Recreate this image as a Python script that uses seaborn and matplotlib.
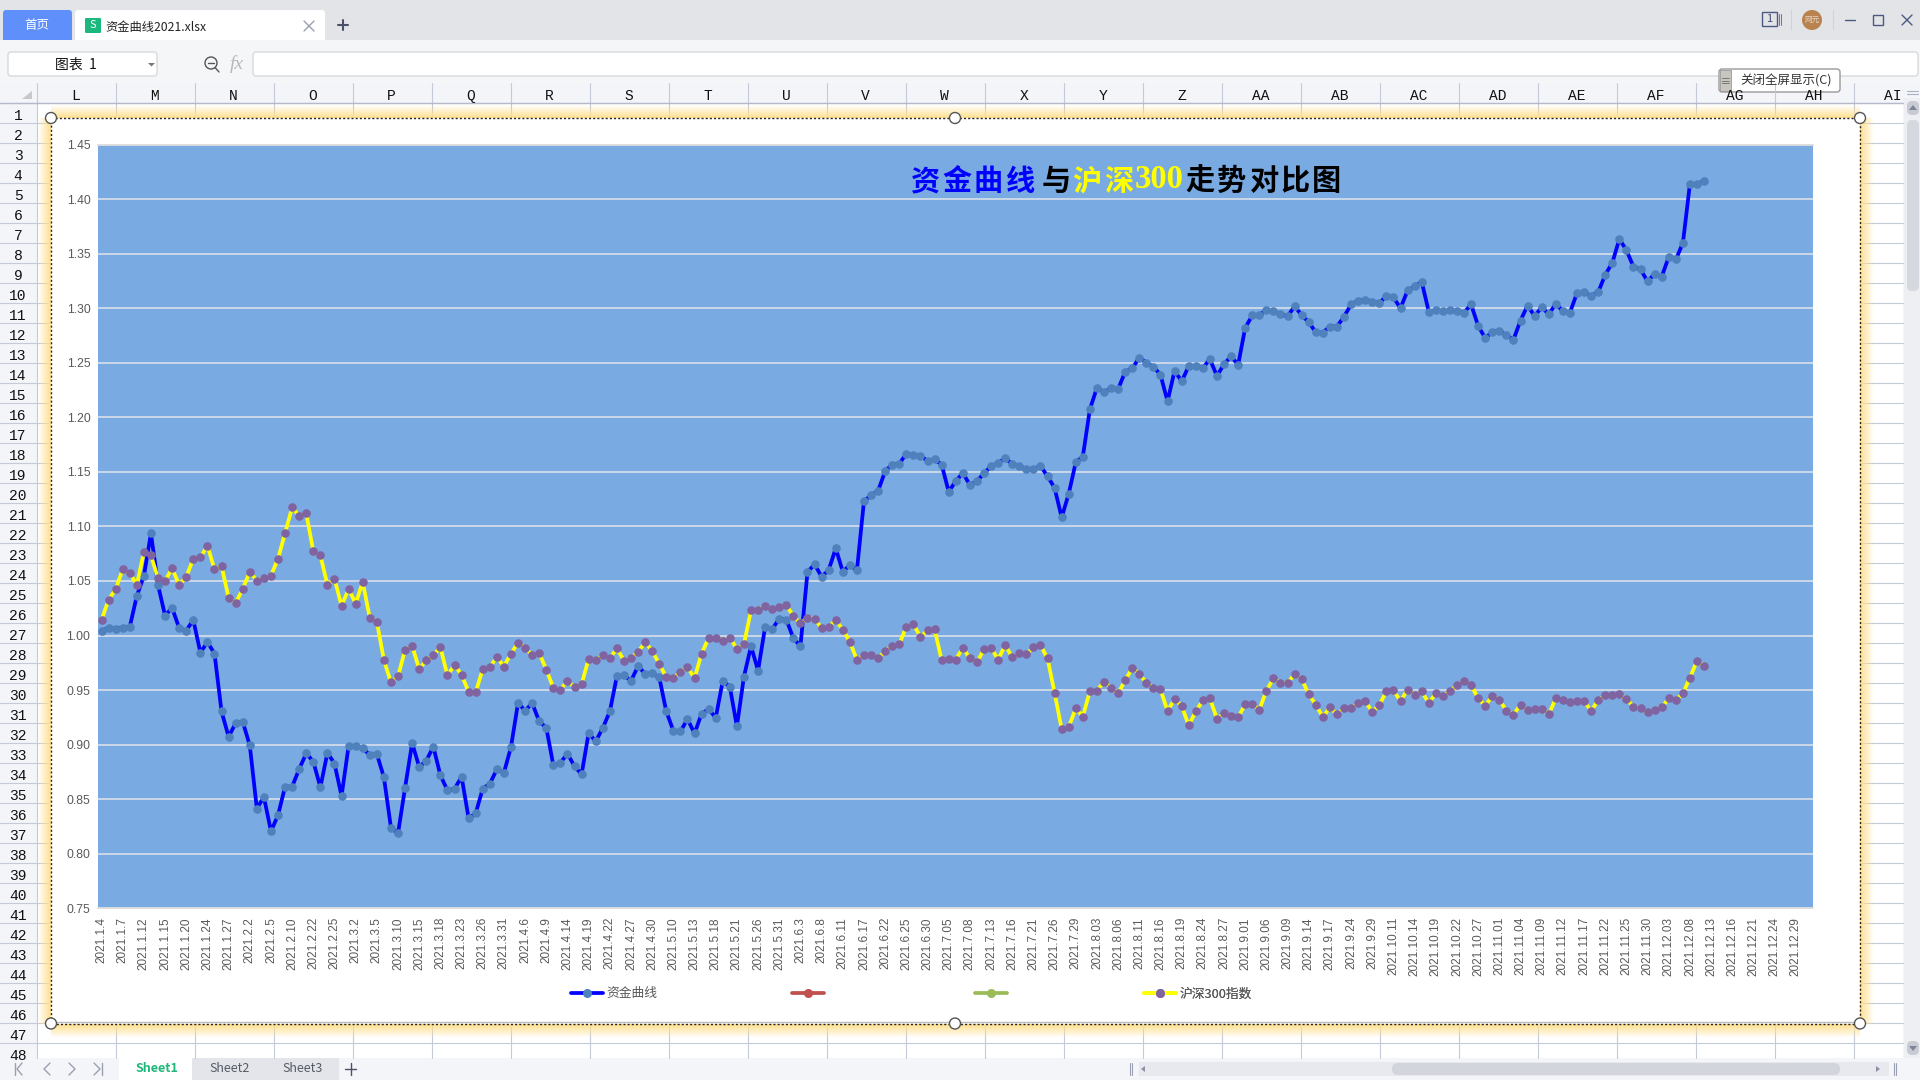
import numpy as np
import pandas as pd
import seaborn as sns
import matplotlib.pyplot as plt
from matplotlib.patches import Rectangle, Circle, FancyBboxPatch, Polygon
from matplotlib.lines import Line2D

# 资金曲线, one value per trading day
fund_curve = [
    1.0045, 1.0067, 1.0064, 1.0070, 1.0079, 1.0363, 1.0546, 1.0936, 1.0463, 1.0183,
    1.0253, 1.0067, 1.0045, 1.0143, 0.9844, 0.9939, 0.9835, 0.9304, 0.9072, 0.9197,
    0.9210, 0.8993, 0.8414, 0.8520, 0.8206, 0.8353, 0.8615, 0.8615, 0.8777, 0.8920,
    0.8844, 0.8609, 0.8926, 0.8825, 0.8529, 0.8990, 0.8984, 0.8966, 0.8905, 0.8914,
    0.8700, 0.8237, 0.8188, 0.8606, 0.9014, 0.8795, 0.8853, 0.8981, 0.8719, 0.8581,
    0.8594, 0.8706, 0.8325, 0.8371, 0.8597, 0.8642, 0.8773, 0.8743, 0.8978, 0.9383,
    0.9310, 0.9380, 0.9213, 0.9155, 0.8810, 0.8834, 0.8917, 0.8801, 0.8728, 0.9106,
    0.9030, 0.9152, 0.9304, 0.9627, 0.9634, 0.9585, 0.9719, 0.9649, 0.9652, 0.9618,
    0.9304, 0.9127, 0.9121, 0.9234, 0.9103, 0.9283, 0.9326, 0.9246, 0.9585, 0.9530,
    0.9167, 0.9624, 0.9902, 0.9679, 1.0079, 1.0058, 1.0155, 1.0146, 0.9975, 0.9902,
    1.0582, 1.0652, 1.0539, 1.0600, 1.0799, 1.0585, 1.0646, 1.0597, 1.1232, 1.1284,
    1.1326, 1.1506, 1.1567, 1.1573, 1.1667, 1.1652, 1.1649, 1.1600, 1.1615, 1.1566,
    1.1319, 1.1414, 1.1490, 1.1380, 1.1414, 1.1487, 1.1551, 1.1579, 1.1627, 1.1570,
    1.1551, 1.1527, 1.1524, 1.1554, 1.1460, 1.1353, 1.1082, 1.1298, 1.1588, 1.1640,
    1.2073, 1.2271, 1.2231, 1.2265, 1.2259, 1.2417, 1.2448, 1.2546, 1.2500, 1.2463,
    1.2390, 1.2146, 1.2427, 1.2329, 1.2469, 1.2472, 1.2451, 1.2533, 1.2378, 1.2488,
    1.2558, 1.2481, 1.2820, 1.2933, 1.2936, 1.2985, 1.2970, 1.2945, 1.2924, 1.3018,
    1.2936, 1.2871, 1.2780, 1.2777, 1.2832, 1.2832, 1.2923, 1.3034, 1.3070, 1.3077,
    1.3061, 1.3046, 1.3113, 1.3098, 1.3000, 1.3162, 1.3199, 1.3242, 1.2969, 1.2979,
    1.2972, 1.2979, 1.2976, 1.2960, 1.3034, 1.2838, 1.2725, 1.2783, 1.2792, 1.2752,
    1.2712, 1.2887, 1.3024, 1.2927, 1.3009, 1.2945, 1.3040, 1.2972, 1.2960, 1.3138,
    1.3144, 1.3113, 1.3147, 1.3306, 1.3416, 1.3633, 1.3532, 1.3379, 1.3355, 1.3245,
    1.3315, 1.3288, 1.3471, 1.3447, 1.3597, 1.4141, 1.4135, 1.4169,
]

# 沪深300指数, same days
csi300 = [
    1.0143, 1.0329, 1.0424, 1.0607, 1.0573, 1.0466, 1.0765, 1.0735, 1.0524, 1.0500,
    1.0616, 1.0463, 1.0536, 1.0704, 1.0716, 1.0823, 1.0607, 1.0637, 1.0347, 1.0298,
    1.0427, 1.0582, 1.0503, 1.0530, 1.0549, 1.0704, 1.0939, 1.1174, 1.1095, 1.1119,
    1.0771, 1.0735, 1.0463, 1.0521, 1.0271, 1.0427, 1.0292, 1.0491, 1.0161, 1.0128,
    0.9774, 0.9570, 0.9627, 0.9868, 0.9905, 0.9692, 0.9774, 0.9817, 0.9893, 0.9634,
    0.9731, 0.9640, 0.9484, 0.9481, 0.9692, 0.9710, 0.9804, 0.9716, 0.9835, 0.9932,
    0.9890, 0.9820, 0.9838, 0.9688, 0.9521, 0.9505, 0.9585, 0.9524, 0.9554, 0.9786,
    0.9780, 0.9817, 0.9792, 0.9881, 0.9771, 0.9795, 0.9850, 0.9939, 0.9859, 0.9740,
    0.9618, 0.9609, 0.9667, 0.9710, 0.9609, 0.9835, 0.9978, 0.9981, 0.9954, 0.9981,
    0.9878, 0.9920, 1.0231, 1.0237, 1.0271, 1.0241, 1.0262, 1.0277, 1.0180, 1.0112,
    1.0164, 1.0155, 1.0067, 1.0082, 1.0140, 1.0054, 0.9942, 0.9777, 0.9820, 0.9817,
    0.9795, 0.9856, 0.9905, 0.9920, 1.0080, 1.0106, 0.9985, 1.0049, 1.0058, 0.9774,
    0.9783, 0.9777, 0.9890, 0.9790, 0.9753, 0.9875, 0.9890, 0.9778, 0.9912, 0.9802,
    0.9838, 0.9829, 0.9893, 0.9912, 0.9790, 0.9475, 0.9143, 0.9161, 0.9332, 0.9256,
    0.9491, 0.9494, 0.9576, 0.9521, 0.9469, 0.9591, 0.9701, 0.9649, 0.9567, 0.9518,
    0.9506, 0.9308, 0.9417, 0.9356, 0.9176, 0.9305, 0.9405, 0.9424, 0.9237, 0.9286,
    0.9262, 0.9250, 0.9369, 0.9369, 0.9320, 0.9494, 0.9607, 0.9567, 0.9564, 0.9646,
    0.9603, 0.9460, 0.9366, 0.9253, 0.9341, 0.9277, 0.9335, 0.9332, 0.9384, 0.9396,
    0.9302, 0.9363, 0.9488, 0.9497, 0.9399, 0.9503, 0.9454, 0.9488, 0.9381, 0.9469,
    0.9448, 0.9491, 0.9542, 0.9579, 0.9546, 0.9424, 0.9356, 0.9445, 0.9411, 0.9311,
    0.9274, 0.9366, 0.9317, 0.9329, 0.9326, 0.9277, 0.9424, 0.9405, 0.9393, 0.9396,
    0.9399, 0.9308, 0.9408, 0.9451, 0.9454, 0.9460, 0.9417, 0.9347, 0.9335, 0.9295,
    0.9320, 0.9341, 0.9424, 0.9411, 0.9469, 0.9613, 0.9768, 0.9725,
]

# every third trading day gets a label
date_labels = [
    '2021.1.4', '2021.1.7', '2021.1.12', '2021.1.15', '2021.1.20', '2021.1.24', '2021.1.27',
    '2021.2.2', '2021.2.5', '2021.2.10', '2021.2.22', '2021.2.25',
    '2021.3.2', '2021.3.5', '2021.3.10', '2021.3.15', '2021.3.18', '2021.3.23', '2021.3.26', '2021.3.31',
    '2021.4.6', '2021.4.9', '2021.4.14', '2021.4.19', '2021.4.22', '2021.4.27', '2021.4.30',
    '2021.5.10', '2021.5.13', '2021.5.18', '2021.5.21', '2021.5.26', '2021.5.31',
    '2021.6.3', '2021.6.8', '2021.6.11', '2021.6.17', '2021.6.22', '2021.6.25', '2021.6.30',
    '2021.7.05', '2021.7.08', '2021.7.13', '2021.7.16', '2021.7.21', '2021.7.26', '2021.7.29',
    '2021.8.03', '2021.8.06', '2021.8.11', '2021.8.16', '2021.8.19', '2021.8.24', '2021.8.27',
    '2021.9.01', '2021.9.06', '2021.9.09', '2021.9.14', '2021.9.17', '2021.9.24', '2021.9.29',
    '2021.10.11', '2021.10.14', '2021.10.19', '2021.10.22', '2021.10.27',
    '2021.11.01', '2021.11.04', '2021.11.09', '2021.11.12', '2021.11.17', '2021.11.22', '2021.11.25', '2021.11.30',
    '2021.12.03', '2021.12.08', '2021.12.13', '2021.12.16', '2021.12.21', '2021.12.24', '2021.12.29',
]
y_ticks = [0.75, 0.80, 0.85, 0.90, 0.95, 1.00, 1.05, 1.10, 1.15, 1.20, 1.25, 1.30, 1.35, 1.40, 1.45]
column_names = ['L', 'M', 'N', 'O', 'P', 'Q', 'R', 'S', 'T', 'U', 'V', 'W', 'X', 'Y', 'Z',
                'AA', 'AB', 'AC', 'AD', 'AE', 'AF', 'AG', 'AH', 'AI']

sns.set_theme(style='white')
plt.rcParams['font.family'] = ['Noto Sans CJK SC', 'DejaVu Sans']

fig = plt.figure(figsize=(19.2, 10.8), dpi=100, facecolor='white')

# spreadsheet window behind the chart, drawn in pixels
bg = fig.add_axes([0, 0, 1, 1], zorder=0)
bg.set_xlim(0, 1920)
bg.set_ylim(1080, 0)
bg.axis('off')


def box(x0, y0, x1, y1, color, **kw):
    bg.add_patch(Rectangle((x0, y0), x1 - x0, y1 - y0, facecolor=color, edgecolor=kw.pop('edge', 'none'), **kw))


def round_box(x0, y0, x1, y1, color, edge='none', r=3):
    bg.add_patch(FancyBboxPatch((x0 + r, y0 + r), x1 - x0 - 2 * r, y1 - y0 - 2 * r,
                                boxstyle=f'round,pad={r},rounding_size={r}',
                                facecolor=color, edgecolor=edge, lw=1))


def label(x, y, s, size=9, color='#333333', ha='center', **kw):
    bg.text(x, y, s, fontsize=size, color=color, ha=ha, va='center', **kw)


def seg(xs, ys, color='#555555', lw=1.0, **kw):
    bg.add_line(Line2D(xs, ys, color=color, lw=lw, **kw))


def glow(x0, y0, x1, y1, axis, fade_to_end):
    # yellow selection halo that fades out over the cells
    ramp = np.linspace(1, 0, 32) if fade_to_end else np.linspace(0, 1, 32)
    rgba = np.ones((32, 1, 4)) if axis == 'y' else np.ones((1, 32, 4))
    rgba[..., 0], rgba[..., 1], rgba[..., 2] = 1.0, 0.88, 0.56
    rgba[..., 3] = ramp.reshape(-1, 1) if axis == 'y' else ramp.reshape(1, -1)
    bg.imshow(rgba, extent=(x0, x1, y1, y0), aspect='auto', zorder=2, interpolation='bilinear')


box(0, 0, 1920, 1080, 'white')
box(0, 0, 1920, 40, '#e3e4e8')
box(0, 40, 1920, 83, '#f5f6f8')
box(0, 83, 1903, 103, '#f4f5f8')
box(0, 103, 36.7, 1058, '#f4f5f8')
box(1903, 83, 1920, 1058, '#f4f5f8')

# title bar
round_box(3, 10, 72, 44, '#5f8ffb')
box(0, 40, 80, 49, '#f5f6f8')
round_box(75, 10, 325, 44, 'white')
box(75, 40, 325, 46, '#f5f6f8')
round_box(85, 18, 101, 33, '#1bb87d', r=1)
label(93, 25.5, 'S', 8, 'white')
label(37, 26, '首页', 9, 'white')
label(105, 27, '资金曲线2021.xlsx', 8.8, '#222222', ha='left')
seg([304, 314], [21, 31], '#9aa0b0', 1)
seg([304, 314], [31, 21], '#9aa0b0', 1)
seg([338, 348], [25, 25], '#4a5068', 1.5)
seg([343, 343], [20, 30], '#4a5068', 1.5)
bg.add_patch(Rectangle((1762, 12), 15, 14, facecolor='none', edgecolor='#4a5a80', lw=1))
label(1769.5, 19, '1', 8, '#3a4a70')
seg([1779, 1779], [14, 25], '#6a7590', 0.7)
seg([1781, 1781], [14, 25], '#6a7590', 0.7)
seg([1791, 1791], [10, 29], '#d0d2d8', 0.8)
seg([1833, 1833], [10, 29], '#d0d2d8', 0.8)
bg.add_patch(Circle((1812, 20), 10, facecolor='#b8834f', edgecolor='none'))
label(1812, 20, '网元', 5.5, '#e8d8c8')
seg([1845, 1855], [20, 20], '#4a5a80', 1)
bg.add_patch(Rectangle((1873, 15), 10, 10, facecolor='none', edgecolor='#4a5a80', lw=1))
seg([1902, 1912], [15, 25], '#4a5a80', 1)
seg([1902, 1912], [25, 15], '#4a5a80', 1)

# name box and formula bar
round_box(8, 52, 157, 76, 'white', '#d8d9de')
round_box(253, 52, 1918, 76, 'white', '#d8d9de')
label(76, 65, '图表  1', 10, '#111111')
bg.add_patch(Polygon([[148, 63], [155, 63], [151.5, 66.5]], facecolor='#777777', edgecolor='none'))
bg.add_patch(Circle((211, 63), 6, facecolor='none', edgecolor='#555555', lw=1))
seg([208, 214], [63, 63], '#555555', 1)
seg([215, 219], [67.5, 72], '#555555', 1)
label(237, 64, 'fx', 14, '#b8b8b8', family='Liberation Serif', style='italic')

# cell grid and headers
for col_id in range(24):
    x_line = 36.7 + 79.0 * col_id
    seg([x_line, x_line], [83, 1058], '#c5cad8', 0.8)
    label(x_line + 39, 96, column_names[col_id], 10.5, '#111111', family='Liberation Mono')
for row_id in range(48):
    y_line = 103 + 20 * row_id
    seg([0, 1903], [y_line, y_line], '#c5cad8', 0.8)
    label(18, y_line + 12.5, str(row_id + 1), 10.5, '#111111', family='Liberation Mono')
seg([0, 1903], [103, 103], '#b4bacb', 1)
bg.add_patch(Polygon([[22, 99], [32, 99], [32, 91]], facecolor='#c8c8c8', edgecolor='none'))

# chart selection frame
glow(51, 105, 1860, 118, 'y', False)
glow(51, 1024, 1860, 1038, 'y', True)
glow(38, 118, 51, 1024, 'x', False)
glow(1860, 118, 1874, 1024, 'x', True)
box(51, 118, 1860, 1024, 'white', zorder=3)
bg.add_patch(Rectangle((51, 118), 1809, 906, facecolor='none', edgecolor='#222222', lw=1,
                       linestyle=(0, (1.5, 1.5)), zorder=4))
seg([54, 1858], [1022, 1022], '#bdbdbd', 1, zorder=3)
for hx in [51, 955, 1860]:
    for hy in [118, 1023.5]:
        bg.add_patch(Circle((hx, hy), 5.5, facecolor='white', edgecolor='#555555', lw=1, zorder=5))

# floating full screen button
round_box(1719, 69, 1840, 92, 'white', '#999999')
box(1720, 70, 1731, 91, '#c9c6bf', edge='#999999', lw=0.6)
for gy in [78, 80.5, 83]:
    seg([1722, 1729], [gy, gy], '#777777', 0.7)
label(1786, 81, '关闭全屏显示(C)', 9, '#333333')

# vertical scrollbar
seg([1907, 1918], [91, 91], '#aab0c4', 0.8)
seg([1907, 1918], [94, 94], '#aab0c4', 0.8)
box(1904, 98, 1920, 1058, '#eeeff2')
round_box(1907, 101, 1919, 115, '#c8cbd4', r=5)
round_box(1907, 120, 1919, 291, '#d6d8df', r=5)
round_box(1907, 1041, 1919, 1055, '#c8cbd4', r=5)
bg.add_patch(Polygon([[1909, 110], [1917, 110], [1913, 105]], facecolor='#7d8499', edgecolor='none'))
bg.add_patch(Polygon([[1909, 1046], [1917, 1046], [1913, 1051]], facecolor='#7d8499', edgecolor='none'))

# sheet tabs and bottom scrollbar
box(0, 1058, 1920, 1080, '#f4f5f8')
box(192, 1058, 339, 1080, '#e4e5ea')
box(119.4, 1058, 192, 1080, 'white')
label(157, 1069, 'Sheet1', 9, '#1fb87a', fontweight='bold')
label(230, 1069, 'Sheet2', 9, '#555a66')
label(303, 1069, 'Sheet3', 9, '#555a66')
seg([345, 356], [1069, 1069], '#4a5068', 1)
seg([350.5, 350.5], [1063, 1075], '#4a5068', 1)
# sheet navigation chevrons
seg([22, 17, 22], [1063, 1069, 1075], '#9aa0b0', 1)
seg([15, 15], [1063, 1075], '#9aa0b0', 1)
seg([50, 44, 50], [1063, 1069, 1075], '#9aa0b0', 1)
seg([69, 75, 69], [1063, 1069, 1075], '#9aa0b0', 1)
seg([94, 100, 94], [1063, 1069, 1075], '#9aa0b0', 1)
seg([102, 102], [1063, 1075], '#9aa0b0', 1)
seg([1130, 1130], [1063, 1075], '#9aa0b0', 0.8)
seg([1132, 1132], [1063, 1075], '#9aa0b0', 0.8)
box(1139, 1062, 1889, 1076, '#e8e9ee')
round_box(1392, 1063, 1840, 1075, '#d3d5dd', r=6)
seg([1894, 1894], [1063, 1075], '#9aa0b0', 0.8)
seg([1896, 1896], [1063, 1075], '#9aa0b0', 0.8)
bg.add_patch(Polygon([[1145, 1066], [1145, 1072], [1141, 1069]], facecolor='#8a90a4', edgecolor='none'))
bg.add_patch(Polygon([[1876, 1066], [1876, 1072], [1880, 1069]], facecolor='#8a90a4', edgecolor='none'))

bg.set_xlim(0, 1920)
bg.set_ylim(1080, 0)

# the chart itself
ax = fig.add_axes([98 / 1920, 1 - 908.3 / 1080, (1813.5 - 98) / 1920, (908.3 - 144.5) / 1080], zorder=2)
ax.set_facecolor('#7aaae2')

fund_df = pd.DataFrame({'day': np.arange(len(fund_curve)), 'value': fund_curve})
index_df = pd.DataFrame({'day': np.arange(len(csi300)), 'value': csi300})

sns.lineplot(data=fund_df, x='day', y='value', ax=ax, color='#0000ff', lw=2.7, marker='o', ms=6.2,
             markerfacecolor='#4f81bd', markeredgewidth=0, estimator=None, sort=False, zorder=3)
sns.lineplot(data=index_df, x='day', y='value', ax=ax, color='#ffff00', lw=2.7, marker='o', ms=6.2,
             markerfacecolor='#8064a2', markeredgewidth=0, estimator=None, sort=False, zorder=4)

ax.set_xlim(-0.5, 242.5)
ax.set_ylim(0.75, 1.45)
ax.set_xticks(np.arange(0, 243, 3))
ax.set_xticklabels(date_labels, rotation=90, va='top', ha='center', family='Liberation Sans', fontsize=8.5, color='#595959')
ax.set_yticks(y_ticks)
ax.set_yticklabels([f'{t:.2f}' for t in y_ticks], family='Liberation Sans', fontsize=8.7, color='#595959')
ax.tick_params(axis='x', length=0, pad=6.3)
ax.tick_params(axis='y', length=0, pad=5.5)
ax.grid(axis='y', color='#e0e4ea', lw=1.1)
ax.set_axisbelow(True)
ax.set(xlabel='', ylabel='')
for side in ['left', 'right']:
    ax.spines[side].set_visible(False)
for side in ['top', 'bottom']:
    ax.spines[side].set_color('#d9d9d9')
    ax.spines[side].set_linewidth(1.2)

# title, one glyph at a time because the colours change and the glyphs are spread out
title_parts = [('资金曲线', '#0000ff', 910.0), ('与', '#000000', 1041.0), ('沪深', '#ffff00', 1072.0),
               ('走势对比图', '#000000', 1185.0)]
for part, part_color, part_x in title_parts:
    for char_id, char in enumerate(part):
        ax.text(part_x + 15 + 31.7 * char_id, 181, char, transform=bg.transData, ha='center', va='center',
                fontsize=21, color=part_color, fontweight='bold', zorder=6)
ax.text(1135, 180, '300', transform=bg.transData, ha='left', va='center', fontsize=23.5,
        family='Liberation Serif', fontweight='bold', color='#ffff00', zorder=6)

# legend, the two middle series hold no data
blue_key = Line2D([], [], color='#0000ff', lw=2.7, marker='o', ms=6.5, markerfacecolor='#4f81bd', markeredgewidth=0)
red_key = Line2D([], [], color='#c0504d', lw=2.7, marker='o', ms=6.5, markerfacecolor='#c0504d', markeredgewidth=0)
green_key = Line2D([], [], color='#9bbb59', lw=2.7, marker='o', ms=6.5, markerfacecolor='#9bbb59', markeredgewidth=0)
yellow_key = Line2D([], [], color='#ffff00', lw=2.7, marker='o', ms=6.5, markerfacecolor='#8064a2', markeredgewidth=0)
legend_keys = [(blue_key, '资金曲线', 571), (red_key, '', 792), (green_key, '', 975), (yellow_key, '沪深300指数', 1144)]
for key, key_text, key_x in legend_keys:
    leg = ax.legend([key], [key_text], loc='center left', bbox_to_anchor=(key_x, 994), bbox_transform=bg.transData,
                    frameon=False, fontsize=9.2, handlelength=2.5, handletextpad=0.25, borderpad=0, borderaxespad=0,
                    labelcolor='#595959')
    ax.add_artist(leg)

fig.savefig('out.png', dpi=100)
